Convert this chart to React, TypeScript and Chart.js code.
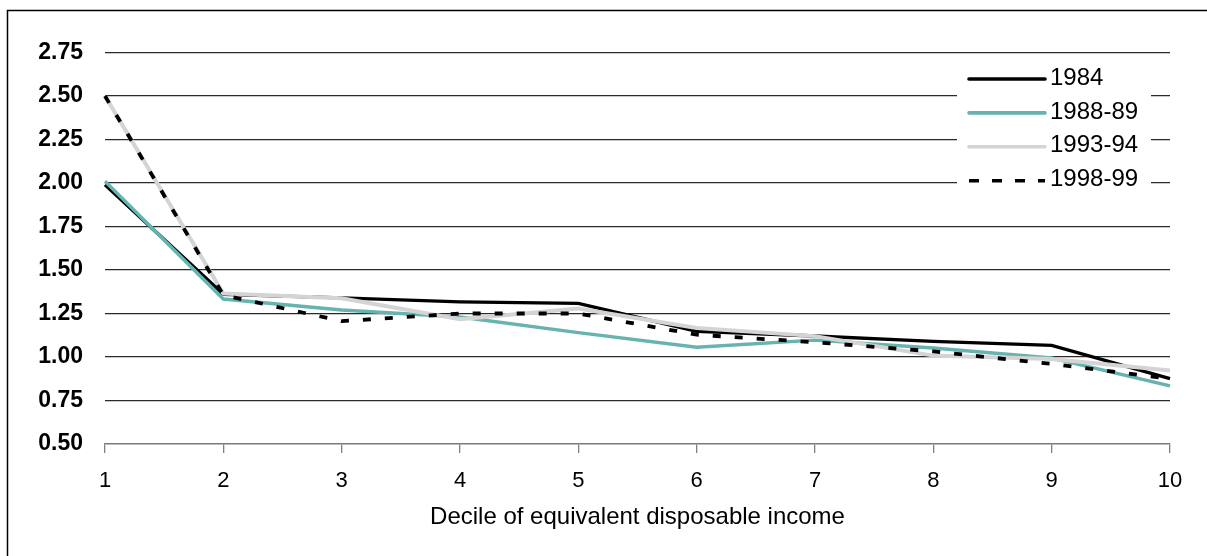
import React, { useEffect, useRef } from 'react';
import { Chart, registerables } from 'chart.js';

Chart.register(...registerables);

const deciles = ['1', '2', '3', '4', '5', '6', '7', '8', '9', '10'];
const seriesLabels = ['1984', '1988-89', '1993-94', '1998-99'];
const s1984 = [1.99, 1.36, 1.34, 1.317, 1.308, 1.148, 1.121, 1.09, 1.067, 0.876];
const s1988 = [2.01, 1.333, 1.27, 1.23, 1.14, 1.056, 1.097, 1.052, 0.994, 0.834];
const s1993 = [2.5, 1.365, 1.337, 1.217, 1.279, 1.167, 1.12, 1.008, 0.988, 0.923];
const s1998 = [2.5, 1.356, 1.206, 1.25, 1.25, 1.128, 1.085, 1.032, 0.96, 0.875];
const yMin = 0.5;
const yMax = 2.75;
const yStep = 0.25;
const xTitle = 'Decile of equivalent disposable income';

const FONT = '"Liberation Sans", Arial, sans-serif';

const framePlugin = {
  id: 'frame',
  beforeDraw(chart: any) {
    const ctx = chart.ctx;
    ctx.save();
    ctx.fillStyle = '#ffffff';
    ctx.fillRect(0, 0, chart.width, chart.height);
    ctx.strokeStyle = '#000000';
    ctx.lineWidth = 1.5;
    ctx.beginPath();
    ctx.moveTo(7.5, chart.height + 5);
    ctx.lineTo(7.5, 10.5);
    ctx.lineTo(chart.width + 5, 10.5);
    ctx.stroke();
    ctx.restore();
  },
};

const legendPlugin = {
  id: 'boxLegend',
  afterDraw(chart: any) {
    const ctx = chart.ctx;
    const area = chart.chartArea;
    const x0 = area.right - 202;
    ctx.save();
    ctx.fillStyle = '#ffffff';
    ctx.fillRect(x0 - 11, 60, 194, 136);
    chart.data.datasets.forEach((ds: any, i: number) => {
      const y = 79 + i * 33.9;
      ctx.beginPath();
      ctx.strokeStyle = ds.borderColor;
      ctx.lineWidth = 3.6;
      if (ds.borderDash && ds.borderDash.length) {
        ctx.setLineDash([10, 13]);
        ctx.lineCap = 'butt';
      } else {
        ctx.setLineDash([]);
        ctx.lineCap = 'round';
      }
      ctx.moveTo(x0 + 1, y);
      ctx.lineTo(x0 + 77, y);
      ctx.stroke();
      ctx.setLineDash([]);
      ctx.fillStyle = '#000000';
      ctx.font = `24px ${FONT}`;
      ctx.textBaseline = 'middle';
      ctx.textAlign = 'left';
      ctx.fillText(ds.label, x0 + 82, y - 1);
    });
    ctx.restore();
  },
};

export default function App() {
  const ref = useRef<HTMLCanvasElement | null>(null);

  useEffect(() => {
    if (!ref.current) return;
    const chart = new Chart(ref.current, {
      type: 'line',
      data: {
        labels: deciles,
        datasets: [
          {
            label: seriesLabels[0],
            data: s1984,
            borderColor: '#000000',
            borderWidth: 3.4,
            pointRadius: 0,
            tension: 0,
            order: 3,
          },
          {
            label: seriesLabels[1],
            data: s1988,
            borderColor: '#66B3B0',
            borderWidth: 3.4,
            pointRadius: 0,
            tension: 0,
            order: 2,
          },
          {
            label: seriesLabels[2],
            data: s1993,
            borderColor: '#D4D4D4',
            borderWidth: 4,
            pointRadius: 0,
            tension: 0,
            order: 1,
          },
          {
            label: seriesLabels[3],
            data: s1998,
            borderColor: '#000000',
            borderWidth: 3.8,
            borderDash: [8, 14],
            pointRadius: 0,
            tension: 0,
            order: 0,
          },
        ],
      },
      options: {
        animation: false,
        responsive: false,
        devicePixelRatio: 1,
        layout: { padding: { top: 52.5, right: 37, bottom: 0, left: 0 } },
        plugins: {
          legend: { display: false },
          tooltip: { enabled: false },
        },
        scales: {
          x: {
            type: 'category',
            offset: false,
            grid: {
              display: true,
              drawOnChartArea: false,
              drawTicks: true,
              tickLength: 9,
              color: '#808080',
              lineWidth: 1.3,
            },
            border: { display: true, color: '#7a7a7a', width: 1.6 },
            ticks: {
              color: '#000000',
              font: { family: FONT, size: 22 },
              padding: 15,
              maxRotation: 0,
              autoSkip: false,
            },
            title: {
              display: true,
              text: xTitle,
              color: '#000000',
              font: { family: FONT, size: 24 },
              padding: { top: 0, bottom: 24.6 },
            },
            afterFit(scale: any) {
              scale.height = 112;
            },
          },
          y: {
            min: yMin,
            max: yMax,
            grid: {
              drawTicks: false,
              color: (c: any) => (c.tick && c.tick.value === yMin ? 'rgba(0,0,0,0)' : '#2a2a2a'),
              lineWidth: 1.3,
            },
            border: { display: false },
            ticks: {
              stepSize: yStep,
              color: '#000000',
              font: { family: FONT, size: 23, weight: 'bold' },
              padding: 22,
              callback: (v: any) => Number(v).toFixed(2),
            },
            afterFit(scale: any) {
              scale.width = 105;
            },
          },
        },
      },
      plugins: [framePlugin, legendPlugin],
    });
    return () => chart.destroy();
  }, []);

  return (
    <div
      style={{
        position: 'fixed',
        left: 0,
        top: 0,
        width: 1207,
        height: 556,
        background: '#ffffff',
        overflow: 'hidden',
      }}
    >
      <canvas ref={ref} width={1207} height={556} style={{ display: 'block', width: 1207, height: 556 }} />
    </div>
  );
}
